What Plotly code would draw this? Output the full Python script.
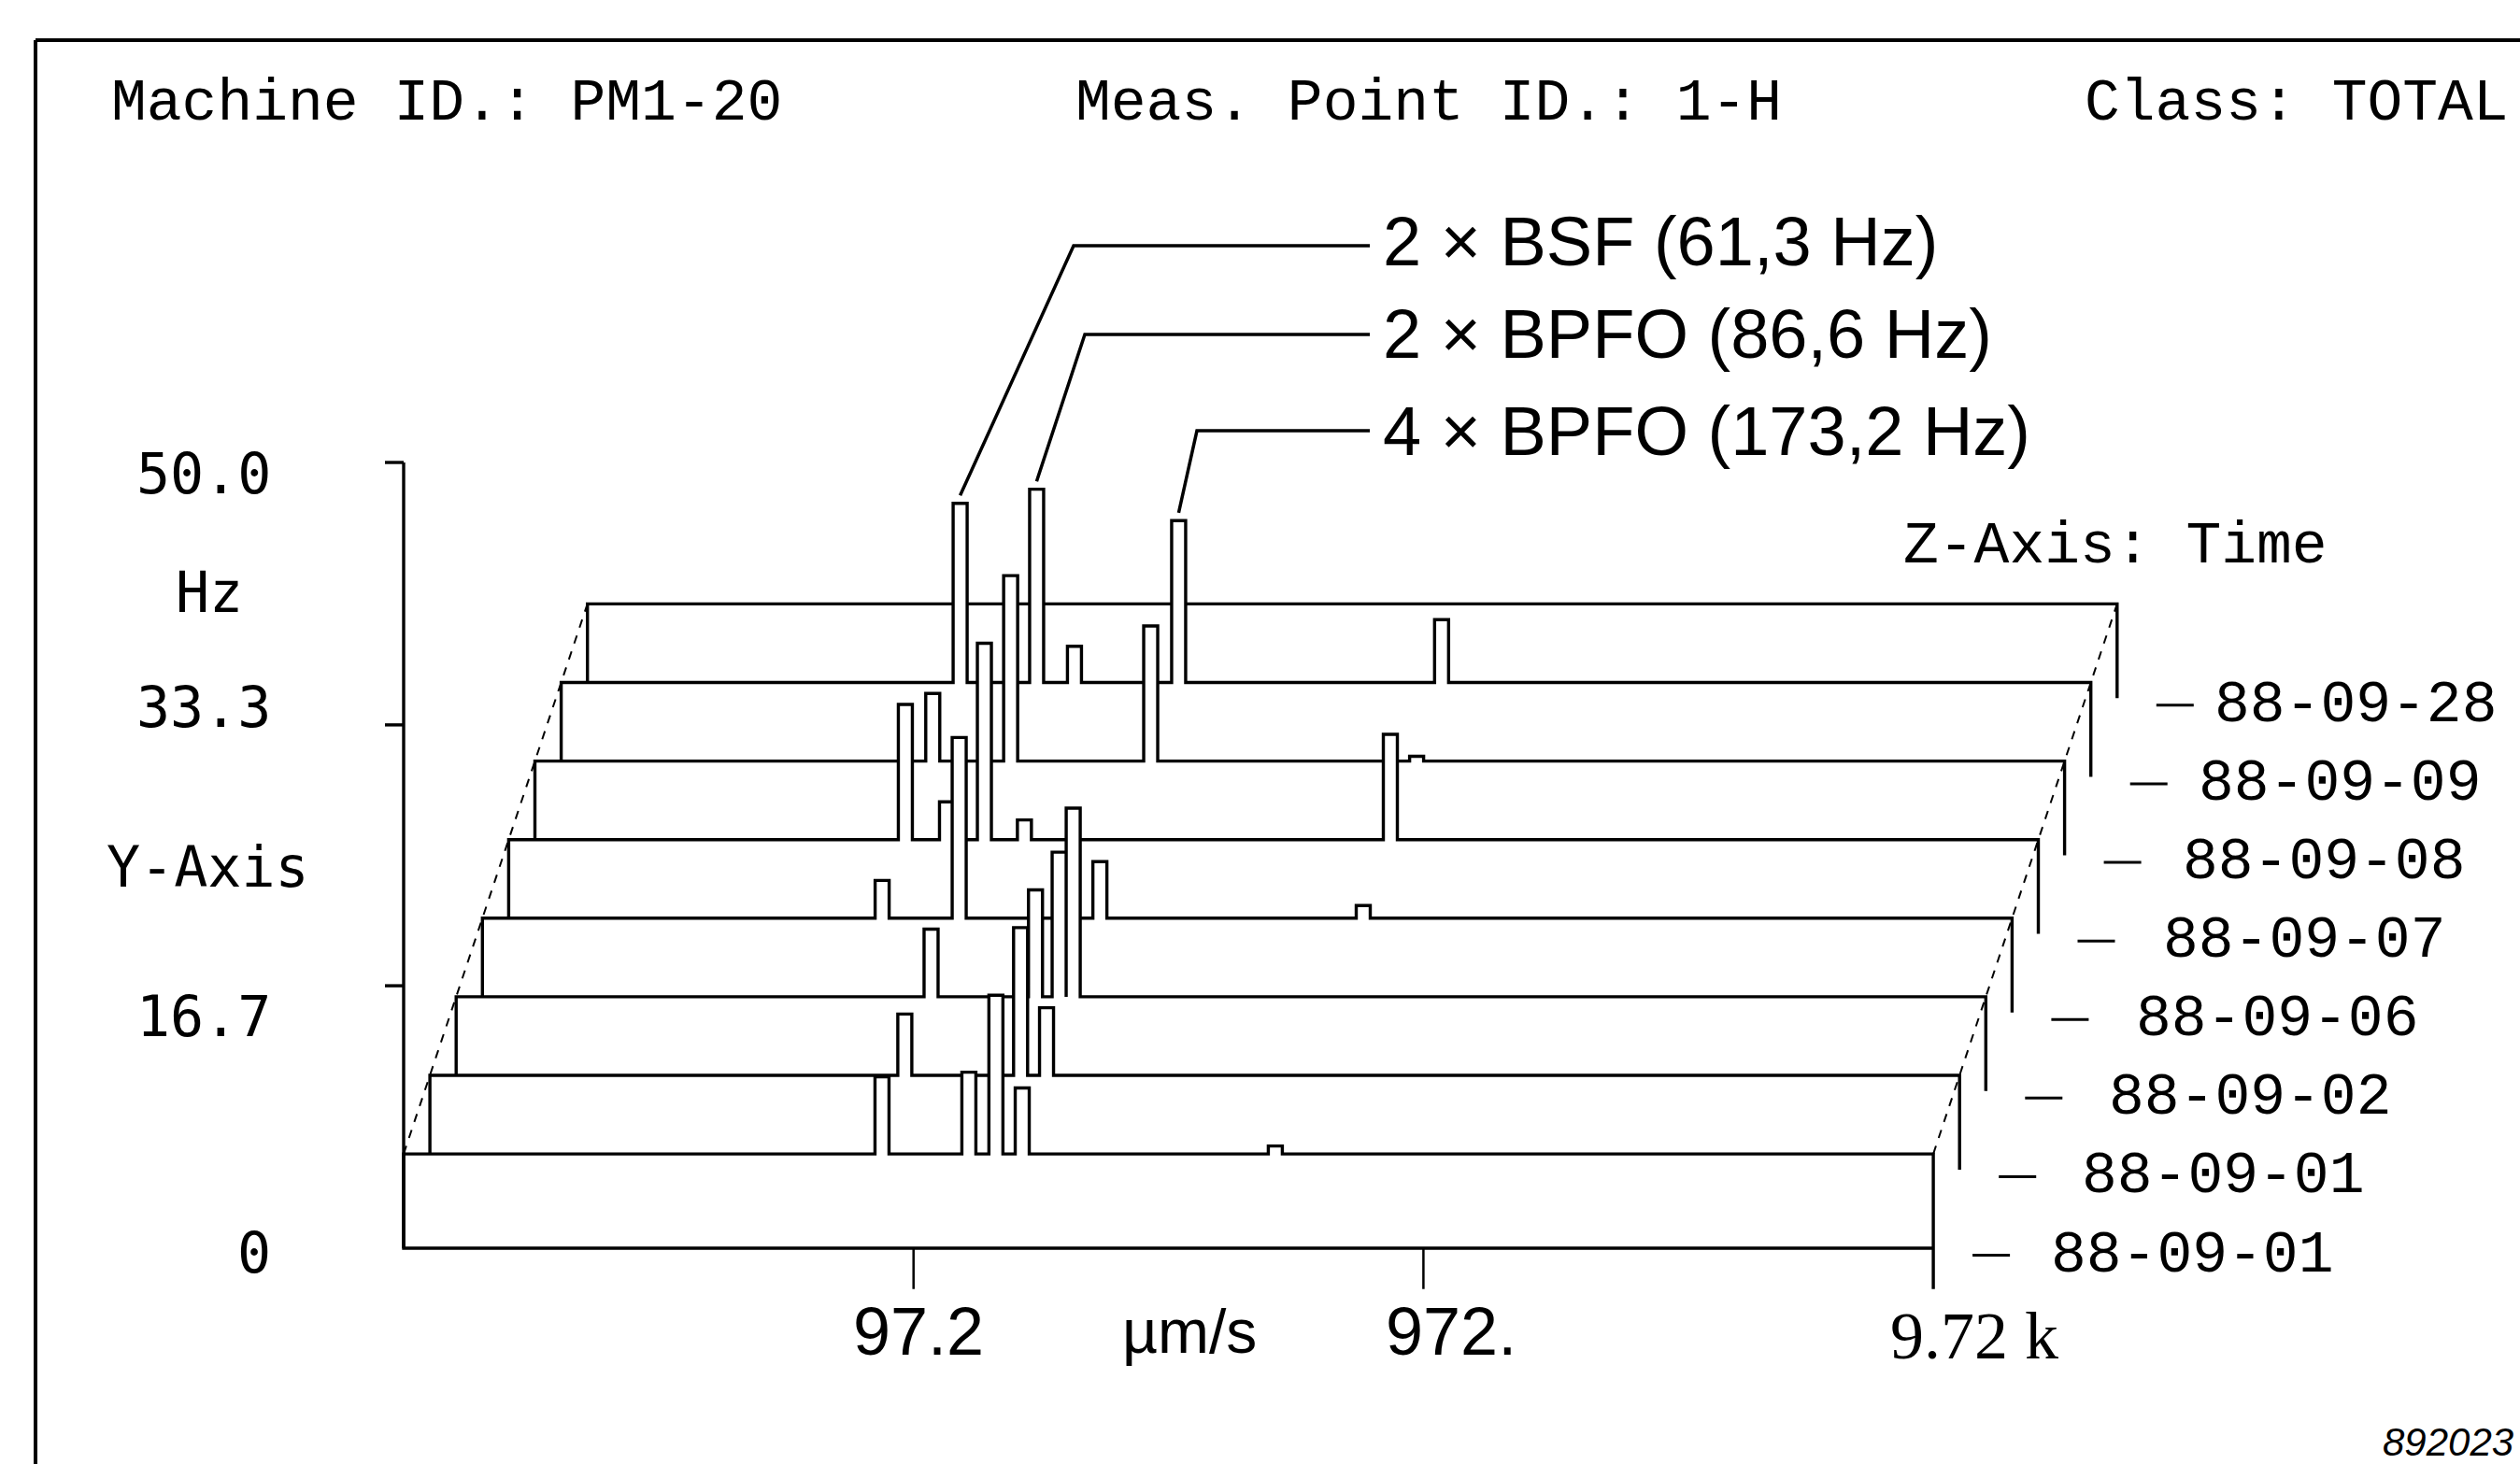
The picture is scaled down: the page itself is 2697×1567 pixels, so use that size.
import numpy as np
import plotly.graph_objects as go

# ---------------- data ----------------
# spectra from front (oldest) to back (newest)
dates = ["88-09-01", "88-09-01", "88-09-02", "88-09-06",
         "88-09-07", "88-09-08", "88-09-09", "88-09-28"]

peak_freqs = [
    [84.3, 124.8, 141.0, 158.8, 498.0],      # 88-09-01 (front)
    [83.0, 140.0, 157.4],                    # 88-09-01
    [83.0, 133.0, 148.0, 157.7],             # 88-09-02
    [59.1, 83.7, 158.0, 519.0],              # 88-09-06
    [58.3, 70.2, 83.3, 99.8, 521.0],         # 88-09-07
    [58.6, 83.3, 156.8, 521.0],              # 88-09-08
    [58.9, 83.2, 98.7, 158.0, 518.0],        # 88-09-09
    [],                                      # 88-09-28
]
peak_amps = [
    [4.9, 5.2, 10.1, 4.2, 0.5],
    [3.9, 9.4, 4.3],
    [4.3, 6.8, 9.2, 12.0],
    [2.4, 11.5, 3.6, 0.8],
    [8.6, 2.4, 12.5, 1.25, 6.7],
    [4.3, 11.8, 8.6, 0.3],
    [11.4, 12.3, 2.3, 10.3, 4.0],
    [],
]

x_min, x_max = 9.72, 9720.0
x_tick_vals = [97.2, 972.0, 9720.0]
x_tick_labels = ["97.2", "972.", "9.72 k"]
x_unit = "µm/s"
y_tick_vals = [16.7, 33.3, 50.0]
y_tick_labels = ["0", "16.7", "33.3", "50.0"]
y_unit = "Hz"

annot_texts = ["2 × BSF (61,3 Hz)", "2 × BPFO (86,6 Hz)", "4 × BPFO (173,2 Hz)"]
annot_peaks = [(6, 0), (6, 1), (6, 3)]          # (spectrum index, peak index)

header = ["Machine ID.: PM1-20", "Meas. Point ID.: 1-H", "Class: TOTAL"]

# ---------------- layout constants ----------------
W, H = 2697, 1567
LEFT_PX = 432.0          # pixel of x_min on the front plate
DEC_PX = 545.7           # pixels per decade
Y0_PX = 1336.0           # pixel of y = 0
UNIT_PX = 16.82          # pixels per y unit
DX_DEC = 28.1 / DEC_PX   # perspective shift per spectrum (decades)
DZ = 5.0                 # perspective rise per spectrum (y units)
BASE0 = 6.0              # baseline of front spectrum
PLATE = 6.0              # plate depth
HW = 7.5 / DEC_PX        # half width of a spectral line (decades)
LW = 3.4

log_x0 = np.log10(x_min)
xrange = [log_x0 - LEFT_PX / DEC_PX, log_x0 + (W - LEFT_PX) / DEC_PX]
yrange = [(Y0_PX - H) / UNIT_PX, Y0_PX / UNIT_PX]


def nudge(x, dpx):
    return x * 10 ** (dpx / DEC_PX)


def px_paper(px):
    return px / W


def py_paper(py):
    return 1 - py / H


def spectrum(freqs, amps):
    lo = [f * 10 ** -HW for f in freqs]
    hi = [f * 10 ** HW for f in freqs]
    edges = sorted(set([x_min, x_max] + lo + hi))
    xs, ys = [], []
    for a, b in zip(edges[:-1], edges[1:]):
        mid = np.sqrt(a * b)
        hs = [am for l, h, am in zip(lo, hi, amps) if l <= mid <= h]
        hgt = max(hs) if hs else 0.0
        xs += [a, b]
        ys += [hgt, hgt]
    return np.array(xs), np.array(ys)


fig = go.Figure()
n = len(dates)
black = "black"

# draw from back to front: white plate fill, then outline
for k in reversed(range(n)):
    sx = 10 ** (DX_DEC * k)
    base = BASE0 + DZ * k
    xs, ys = spectrum(peak_freqs[k], peak_amps[k])
    xs = xs * sx
    ys = ys + base
    xl, xr = x_min * sx, x_max * sx
    bottom = 0.0 if k == 0 else base - PLATE
    fig.add_trace(go.Scatter(
        x=list(xs) + [xr, xl], y=list(ys) + [bottom, bottom],
        fill="toself", fillcolor="white", mode="lines",
        line=dict(width=0, color="white"), hoverinfo="skip", showlegend=False))
    if k == 0:
        lx = [xr, xl, xl] + list(xs) + [xr, xr]
        ly = [0, 0, base] + list(ys) + [base, -2.6]
    else:
        lx = [xl, xl] + list(xs) + [xr, xr]
        ly = [base - PLATE, base] + list(ys) + [base, base - PLATE]
    fig.add_trace(go.Scatter(x=lx, y=ly, mode="lines",
                             line=dict(color=black, width=LW),
                             hoverinfo="skip", showlegend=False))

# dashed perspective guides
for xe in (x_min, x_max):
    fig.add_trace(go.Scatter(
        x=[xe, xe * 10 ** (DX_DEC * (n - 1))],
        y=[BASE0, BASE0 + DZ * (n - 1)],
        mode="lines", line=dict(color=black, width=2, dash="dash"),
        hoverinfo="skip", showlegend=False))

# y axis line with ticks
fig.add_trace(go.Scatter(x=[x_min, x_min], y=[0, y_tick_vals[-1]], mode="lines",
                         line=dict(color=black, width=LW), hoverinfo="skip", showlegend=False))
for tv in y_tick_vals:
    fig.add_trace(go.Scatter(x=[nudge(x_min, -20), x_min], y=[tv, tv], mode="lines",
                             line=dict(color=black, width=LW), hoverinfo="skip", showlegend=False))
# x ticks
for tv in x_tick_vals[:-1]:
    fig.add_trace(go.Scatter(x=[tv, tv], y=[0, -2.6], mode="lines",
                             line=dict(color=black, width=2.5), hoverinfo="skip", showlegend=False))

# z-axis (time) tick dashes
for k in range(n):
    xr = x_max * 10 ** (DX_DEC * k)
    yb = BASE0 + DZ * k - PLATE - 0.45
    fig.add_trace(go.Scatter(x=[nudge(xr, 42), nudge(xr, 82)], y=[yb, yb], mode="lines",
                             line=dict(color=black, width=3), hoverinfo="skip", showlegend=False))

# leader lines for annotated peaks
elbows = [(1149, 263), (1161, 358), (1281, 461)]
text_left = 1478
for (k, i), (ex, ey) in zip(annot_peaks, elbows):
    sx = 10 ** (DX_DEC * k)
    fx = peak_freqs[k][i] * sx
    fy = BASE0 + DZ * k + peak_amps[k][i] + 0.5
    ex_d = nudge(x_min, ex - LEFT_PX)
    ey_d = (Y0_PX - ey) / UNIT_PX
    tx_d = nudge(x_min, text_left - 12 - LEFT_PX)
    fig.add_trace(go.Scatter(x=[fx, ex_d, tx_d], y=[fy, ey_d, ey_d], mode="lines",
                             line=dict(color=black, width=3.5), hoverinfo="skip", showlegend=False))

annotations = []


def add_text(text, px, py, size, family, xanchor="center", italic=False):
    annotations.append(dict(
        x=px_paper(px), y=py_paper(py), xref="paper", yref="paper",
        text=("<i>%s</i>" % text) if italic else text, showarrow=False,
        xanchor=xanchor, yanchor="middle",
        font=dict(size=size, family=family, color=black)))


mono = "Liberation Mono"
sans = "Liberation Sans"
serif = "Liberation Serif"
ymono = "DejaVu Sans Mono"

# header
add_text(header[0], 117, 112, 63, mono, "left")
add_text(header[1], 1149, 112, 63, mono, "left")
add_text(header[2], 2229, 112, 63, mono, "left")

# peak labels
for t, ty in zip(annot_texts, [258, 358, 461]):
    add_text(t, text_left, ty, 74, sans, "left")

# y axis labels
y_label_pos = [(292, 1341, "right"), (218, 1088, "center"), (218, 757, "center"), (218, 507, "center")]
for lab, (px, py, anc) in zip(y_tick_labels, y_label_pos):
    add_text(lab, px, py, 60, ymono, anc)
add_text(y_unit, 224, 634, 60, ymono)
add_text("Y-Axis", 222, 928, 60, ymono)

# x axis labels
add_text(x_tick_labels[0], 983, 1425, 72, sans)
add_text(x_unit, 1273, 1425, 66, sans)
add_text(x_tick_labels[1], 1553, 1425, 72, sans)
add_text(x_tick_labels[2], 2113, 1430, 72, serif)

# z axis title and date labels
add_text("Z-Axis: Time", 2035, 585, 63, mono, "left")
date_label_left = [2193, 2226, 2255, 2284, 2313, 2334, 2351, 2368]
for k, d in enumerate(dates):
    yb_px = Y0_PX - (BASE0 + DZ * k - PLATE) * UNIT_PX + 8
    add_text(d, date_label_left[k], yb_px, 63, mono, "left")

# figure id
add_text("892023", 2548, 1543, 42, sans, "left", italic=True)

shapes = [
    dict(type="line", xref="paper", yref="paper", x0=px_paper(38), x1=px_paper(38),
         y0=py_paper(43), y1=-0.05, line=dict(color=black, width=4)),
    dict(type="line", xref="paper", yref="paper", x0=px_paper(38), x1=1.05,
         y0=py_paper(43), y1=py_paper(43), line=dict(color=black, width=4)),
]

fig.update_layout(
    width=W, height=H, margin=dict(l=0, r=0, t=0, b=0),
    paper_bgcolor="white", plot_bgcolor="white",
    xaxis=dict(type="log", range=xrange, visible=False, fixedrange=True),
    yaxis=dict(range=yrange, visible=False, fixedrange=True),
    annotations=annotations, shapes=shapes, showlegend=False,
    font=dict(family=sans, color=black),
)

fig.write_html("out.html")
